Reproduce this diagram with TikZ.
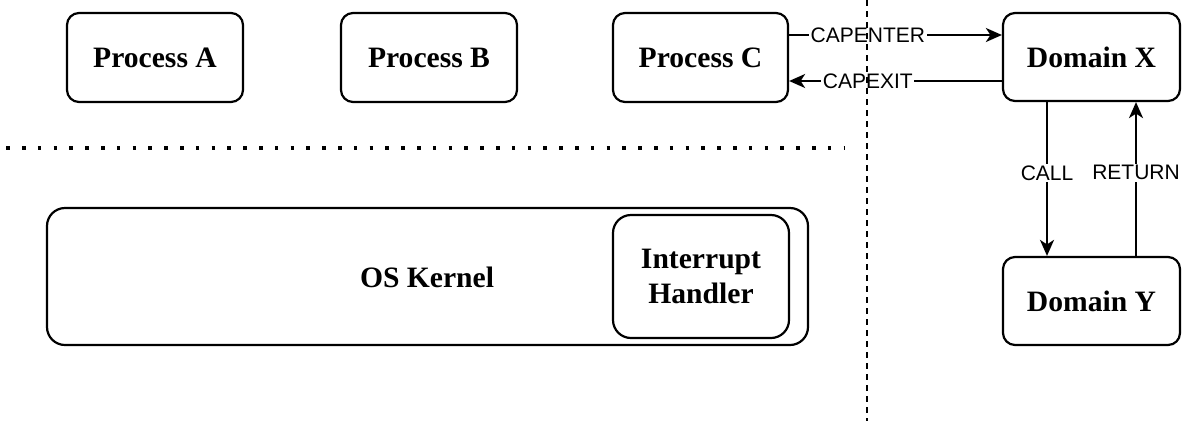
\documentclass[tikz,border=0pt]{standalone}
\usepackage{fontspec}
\setmainfont{Liberation Serif}
\newfontfamily\labfont{Liberation Sans}
\usetikzlibrary{arrows.meta}
\tikzset{
  box/.style={draw, line width=2.2pt, rounded corners=12pt, inner sep=0pt, align=center,
    font=\fontsize{29.6}{35}\selectfont\bfseries},
  bigbox/.style={box, rounded corners=18pt},
  conn/.style={line width=2.1pt, -{Stealth[length=16pt,width=14pt,inset=4.5pt]}},
  lab/.style={fill=white, inner sep=1.5pt, font=\labfont\fontsize{21}{24}\selectfont},
  sepdash/.style={line width=2pt, dash pattern=on 6pt off 5pt},
  sepdot/.style={line width=3.5pt, dash pattern=on 3.5pt off 12.3pt}
}
\begin{document}
\begin{tikzpicture}[x=1pt,y=-1pt]
\useasboundingbox (0,0) rectangle (1190,421);
\node[box, minimum width=176pt, minimum height=89pt] (pa) at (155,57.5) {Process A};
\node[box, minimum width=176pt, minimum height=89pt] (pb) at (429,57.5) {Process B};
\node[box, minimum width=175pt, minimum height=89pt] (pc) at (700.5,57.5) {Process C};
\node[box, minimum width=177pt, minimum height=88pt] (dx) at (1091.5,57) {Domain X};
\node[box, minimum width=177pt, minimum height=88pt] (dy) at (1091.5,301) {Domain Y};
\node[bigbox, minimum width=761pt, minimum height=137pt] (kern) at (427.5,276.5) {};
\node[font=\fontsize{29.6}{35}\selectfont\bfseries] (kt) at (427,277) {OS Kernel};
\node[bigbox, minimum width=176pt, minimum height=123pt] (ih) at (701,276.5) {Interrupt\\Handler};
\coordinate (ey) at (0,35);
\coordinate (xy) at (0,81);
\coordinate (cx) at (1047,0);
\coordinate (rx) at (1136,0);
\draw[conn] (pc.east |- ey) -- node[lab, pos=0.37] (l1) {CAPENTER} (dx.west |- ey);
\draw[conn] (dx.west |- xy) -- node[lab, pos=0.63] (l2) {CAPEXIT} (pc.east |- xy);
\draw[conn] (dx.south -| cx) -- node[lab, pos=0.46] (l3) {CALL} (dy.north -| cx);
\draw[conn] (dy.north -| rx) -- node[lab, pos=0.54] (l4) {RETURN} (dx.south -| rx);
\coordinate (vt) at (867,0);
\coordinate (vb) at (867,421);
\coordinate (hl) at (6.25,148);
\coordinate (hr) at (844,148);
\draw[sepdash] (vt) -- (vb);
\draw[sepdot] (hl) -- (hr);
\end{tikzpicture}
\end{document}
